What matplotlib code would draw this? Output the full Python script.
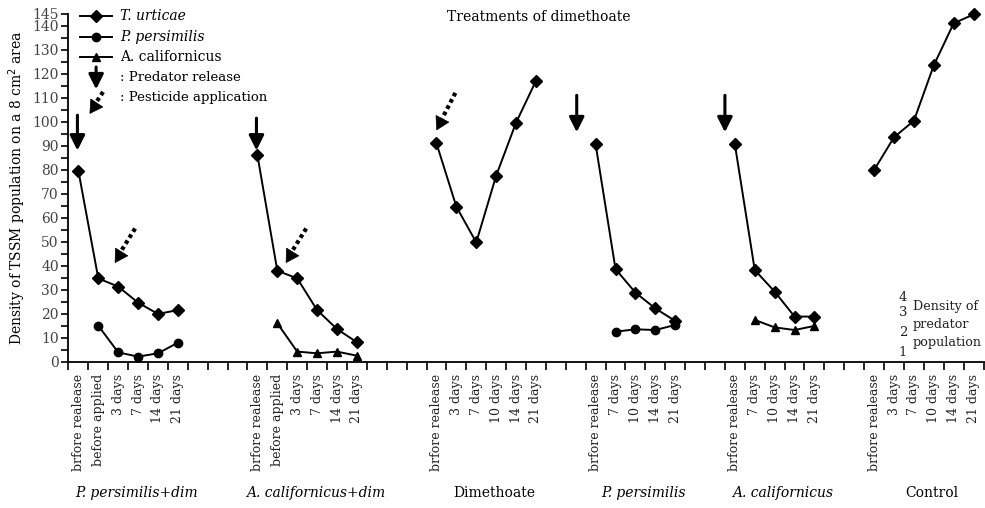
import numpy as np
import matplotlib.pyplot as plt

plt.rcParams['font.family'] = ['DejaVu Serif']

# treatment groups along the x axis
group_names = ['P. persimilis+dim', 'A. californicus+dim', 'Dimethoate',
               'P. persimilis', 'A. californicus', 'Control']
group_italic = [True, True, False, True, True, False]
group_gaps = [0, 3, 3, 2, 2, 2]   # empty slots before each group
group_ticks = [
    ['brfore realease', 'before applied', '3 days', '7 days', '14 days', '21 days'],
    ['brfore realease', 'before applied', '3 days', '7 days', '14 days', '21 days'],
    ['brfore realease', '3 days', '7 days', '10 days', '14 days', '21 days'],
    ['brfore realease', '7 days', '10 days', '14 days', '21 days'],
    ['brfore realease', '7 days', '10 days', '14 days', '21 days'],
    ['brfore realease', '3 days', '7 days', '10 days', '14 days', '21 days'],
]

# T. urticae (all groups)
t_urticae = [
    [79.5, 34.7, 31.3, 24.6, 19.9, 21.5],
    [86.0, 37.9, 34.7, 21.5, 13.6, 8.1],
    [91.0, 64.6, 49.7, 77.5, 99.6, 117.0],
    [90.6, 38.6, 28.8, 22.2, 17.0],
    [90.6, 38.2, 29.2, 18.8, 18.8],
    [79.9, 93.5, 100.4, 123.5, 141.0, 144.7],
]
# predators: (group index, first slot, values)
p_persimilis = [(0, 1, [15.0, 3.9, 2.1, 3.5, 7.9]),
                (3, 1, [12.5, 13.5, 13.2, 15.3])]
a_californicus = [(1, 1, [16.0, 4.2, 3.5, 4.2, 2.5]),
                  (4, 1, [17.4, 14.3, 13.2, 14.9])]

# arrows: (x slot, y top, x tip, y tip)
release_arrows = [(0.45, 102.7, 0.45, 88.0), (9.45, 101.5, 9.45, 88.0),
                  (25.55, 111.0, 25.55, 95.6), (33.0, 111.0, 33.0, 95.6)]
pesticide_arrows = [(3.35, 55.5, 2.3, 41.5), (11.95, 55.5, 10.9, 41.5),
                    (19.45, 112.0, 18.5, 96.8)]

# slot positions of each group
starts = []
pos = 0
for gap, ticks in zip(group_gaps, group_ticks):
    pos += gap
    starts.append(pos)
    pos += len(ticks)
n_slots = pos

fig = plt.figure(figsize=(9.85, 5.08), dpi=100)
ax = fig.add_axes([0.0695, 0.288, 0.929, 0.685])
ax.set_xlim(0, n_slots)
ax.set_ylim(0, 145)

for g, vals in enumerate(t_urticae):
    x = starts[g] + np.arange(len(vals)) + 0.5
    ax.plot(x, vals, color='black', lw=1.4, marker='D', ms=6.5, clip_on=False, zorder=3)
for g, s, vals in p_persimilis:
    x = starts[g] + s + np.arange(len(vals)) + 0.5
    ax.plot(x, vals, color='black', lw=1.4, marker='o', ms=6, clip_on=False, zorder=3)
for g, s, vals in a_californicus:
    x = starts[g] + s + np.arange(len(vals)) + 0.5
    ax.plot(x, vals, color='black', lw=1.4, marker='^', ms=6, clip_on=False, zorder=3)

solid = dict(arrowstyle='-|>,head_length=0.9,head_width=0.45', color='black', lw=2.2,
             shrinkA=0, shrinkB=0)


def dotted_arrow(x0, y0, x1, y1, ms=12):
    # dotted shaft, filled triangle head (rotated marker)
    p0 = ax.transData.transform((x0, y0))
    p1 = ax.transData.transform((x1, y1))
    d = p1 - p0
    u = d / np.hypot(*d)
    r = ms / 2 * fig.dpi / 72
    pc = p1 - u * r
    base = p1 - u * 1.5 * r
    xc, yc = ax.transData.inverted().transform(pc)
    xb, yb = ax.transData.inverted().transform(base)
    ax.plot([x0, xb], [y0, yb], color='black', lw=3, ls=(0, (0.9, 0.8)),
            solid_capstyle='butt', clip_on=False)
    ang = np.degrees(np.arctan2(d[1], d[0])) - 90
    ax.plot([xc], [yc], marker=(3, 0, ang), ms=ms, color='black', mec='black',
            mew=0.5, clip_on=False, zorder=4)


for x0, y0, x1, y1 in release_arrows:
    ax.annotate('', xy=(x1, y1), xytext=(x0, y0), arrowprops=solid)
for x0, y0, x1, y1 in pesticide_arrows:
    dotted_arrow(x0, y0, x1, y1)

# axes styling
for side in ['top', 'right']:
    ax.spines[side].set_visible(False)
ax.spines['left'].set_linewidth(1.3)
ax.spines['bottom'].set_linewidth(1.3)

yt = list(range(0, 145, 5)) + [145]
ax.set_yticks(yt)
ax.set_yticklabels([str(v) if (v % 10 == 0 or v == 145) else '' for v in yt],
                   fontsize=10, color='#444')
ax.tick_params(axis='y', direction='out', length=5, width=1.2, pad=2)

ax.set_xticks(np.arange(n_slots + 1))
ax.set_xticklabels([])
ax.tick_params(axis='x', which='major', direction='out', length=6, width=1.2)
cent, labs = [], []
for s, ticks in zip(starts, group_ticks):
    for i, t in enumerate(ticks):
        cent.append(s + i + 0.5)
        labs.append(t)
ax.set_xticks(cent, minor=True)
ax.set_xticklabels(labs, minor=True, rotation=90, fontsize=9, va='top', color='#222')
ax.tick_params(axis='x', which='minor', length=0, pad=9)

ax.set_ylabel('Density of TSSM population on a 8 cm$^2$ area', fontsize=10, labelpad=3)

# group names below tick labels
for s, ticks, name, it in zip(starts, group_ticks, group_names, group_italic):
    cx = s + len(ticks) / 2 + 0.4
    ax.text(cx, -0.377, name, transform=ax.get_xaxis_transform(), ha='center',
            va='center', fontsize=10, style='italic' if it else 'normal')

ax.text(23.65, 143.5, 'Treatments of dimethoate', ha='center', va='center', fontsize=10)

# legend drawn by hand
leg = [('D', 6.5, 'T. urticae', 'italic', 144.0),
       ('o', 6, 'P. persimilis', 'italic', 135.3),
       ('^', 6, 'A. californicus', 'normal', 127.0)]
for m, ms, name, st, y in leg:
    ax.plot([0.58, 2.2], [y, y], color='black', lw=1.4, clip_on=False)
    ax.plot([1.39], [y], marker=m, ms=ms, color='black', clip_on=False)
    ax.text(2.6, y, name, va='center', fontsize=10, style=st)
ax.annotate('', xy=(1.39, 113.5), xytext=(1.39, 122.8), arrowprops=solid)
ax.text(2.6, 118.5, ': Predator release', va='center', fontsize=9.5)
dotted_arrow(1.74, 112.4, 1.05, 103.8)
ax.text(2.6, 110.0, ': Pesticide application', va='center', fontsize=9.5)

# predator density note on the right
for v, y in zip(['4', '3', '2', '1'], [26.7, 20.3, 12.0, 4.0]):
    ax.text(41.95, y, v, ha='center', va='center', fontsize=9.5, color='#222')
for t, y in zip(['Density of', 'predator', 'population'], [22.8, 15.3, 8.2]):
    ax.text(42.45, y, t, ha='left', va='center', fontsize=9.2, color='#222')

fig.savefig('out.png', dpi=100)
